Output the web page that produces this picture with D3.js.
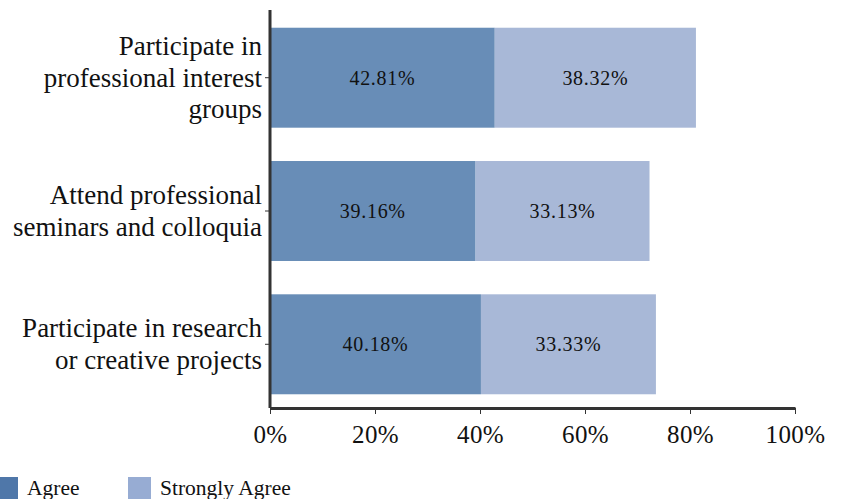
<!DOCTYPE html>
<html><head><meta charset="utf-8">
<script src="https://cdn.jsdelivr.net/npm/d3@7"></script>
<style>body{margin:0;background:#fff}svg{display:block}</style>
</head><body><svg id="c" width="845" height="499"></svg>
<script>
const categories = [
  ["Participate in","professional interest","groups"],
  ["Attend professional","seminars and colloquia"],
  ["Participate in research","or creative projects"]
];
const seriesNames = ["Agree","Strongly Agree"];
const agree = [42.81, 39.16, 40.18];
const stronglyAgree = [38.32, 33.13, 33.33];
const tickValues = [0,20,40,60,80,100];
const barColors = ["#688db7","#a8b8d7"];
const legendColors = ["#4f77a9","#97acd3"];

const FONT = "'Liberation Serif'";
const svg = d3.select("#c");
const L = 270, R = 795, T = 10, B = 408;
const x = d3.scaleLinear().domain([0,100]).range([L,R]);
const y = d3.scaleBand().domain(d3.range(categories.length)).range([12,410]).paddingInner(0.25).paddingOuter(0.118);

const stacked = categories.map((c,i)=>[{s:0,v0:0,v1:agree[i]},{s:1,v0:agree[i],v1:agree[i]+stronglyAgree[i]}]);

const g = svg.append("g");
stacked.forEach((segs,i)=>{
  segs.forEach(d=>{
    g.append("rect").attr("x",x(d.v0)).attr("y",y(i)).attr("width",x(d.v1)-x(d.v0)).attr("height",y.bandwidth()).attr("fill",barColors[d.s]);
    g.append("text").attr("x",(x(d.v0)+x(d.v1))/2).attr("y",y(i)+y.bandwidth()/2).attr("dy","0.35em")
      .attr("text-anchor","middle").attr("font-size",20).attr("letter-spacing",0.7).style("font-family",FONT).attr("fill","#111").text((d.v1-d.v0).toFixed(2)+"%");
  });
});

// x axis
const xa = svg.append("g").attr("transform",`translate(0,${B})`)
  .call(d3.axisBottom(x).tickValues(tickValues).tickFormat(d=>d+"%").tickSize(6).tickSizeOuter(0));
xa.select(".domain").attr("stroke","#333").attr("stroke-width",3);
xa.selectAll(".tick line").attr("stroke","#333");
xa.selectAll(".tick text").attr("font-size",25).attr("dy","1.05em").attr("letter-spacing",0.4).style("font-family",FONT).attr("fill","#111");

// y axis
const ya = svg.append("g").attr("transform",`translate(${L},0)`)
  .call(d3.axisLeft(y).tickSize(5).tickSizeOuter(0).tickFormat(""));
ya.select(".domain").attr("stroke","#333").attr("stroke-width",3).attr("d",`M0,${T}V${B}`);
ya.selectAll(".tick line").attr("stroke","#333");

// category labels
categories.forEach((lines,i)=>{
  const cy = y(i)+y.bandwidth()/2;
  const lh = 31.5;
  const t = svg.append("text").attr("text-anchor","end").attr("font-size",27).style("font-family",FONT).attr("fill","#111");
  lines.forEach((ln,k)=>{
    t.append("tspan").attr("x",262).attr("y",cy+(k-(lines.length-1)/2)*lh).attr("dy","0.33em").text(ln);
  });
});

// legend
const lx = [-5,128];
seriesNames.forEach((n,i)=>{
  svg.append("rect").attr("x",lx[i]).attr("y",477).attr("width",23).attr("height",24).attr("fill",legendColors[i]);
  svg.append("text").attr("x",lx[i]+32).attr("y",495).attr("font-size",21.5).style("font-family",FONT).attr("fill","#111").text(n);
});
</script></body></html>
